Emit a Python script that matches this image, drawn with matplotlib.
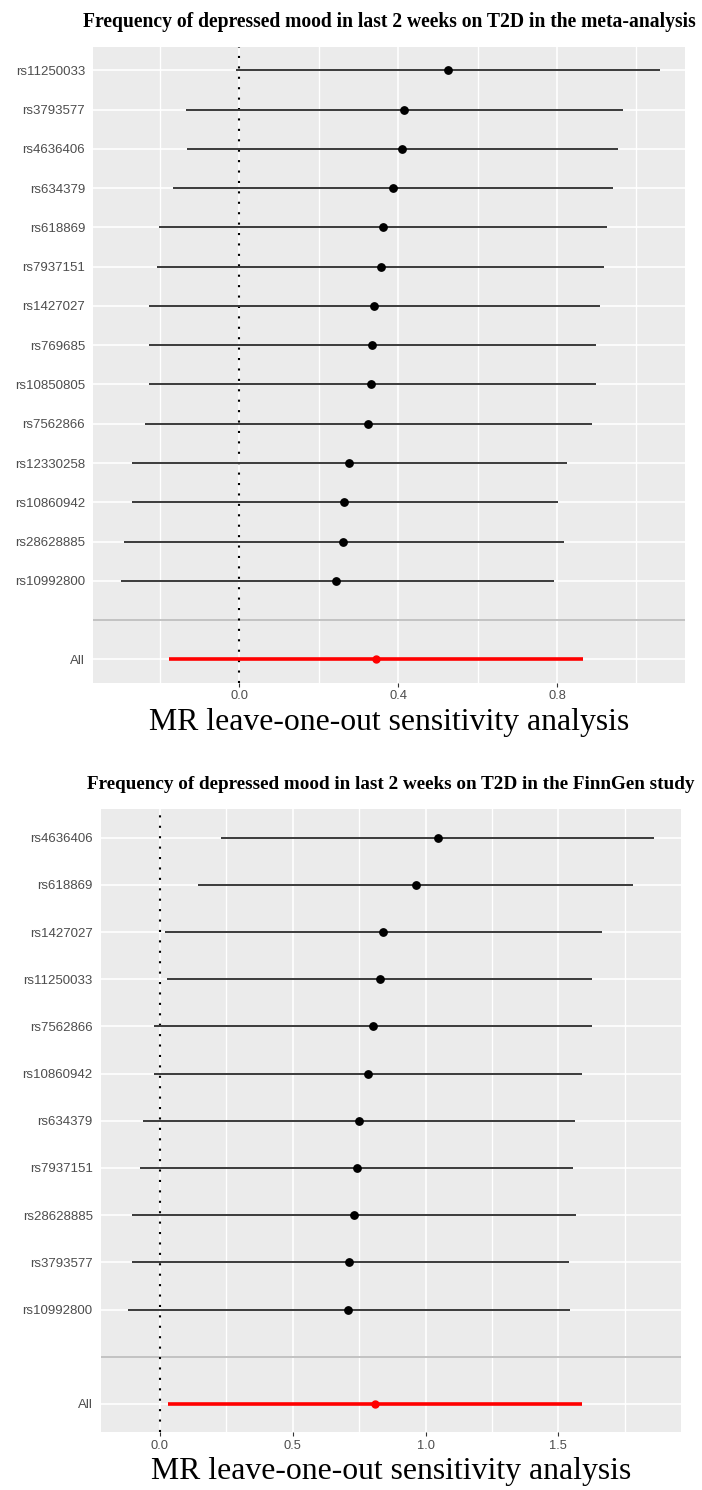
import numpy as np
import matplotlib
matplotlib.use("Agg")
import matplotlib.pyplot as plt

### Données (ordre de haut en bas)

snps_meta = ["rs11250033", "rs3793577", "rs4636406", "rs634379", "rs618869",
             "rs7937151", "rs1427027", "rs769685", "rs10850805", "rs7562866",
             "rs12330258", "rs10860942", "rs28628885", "rs10992800"]
b_meta = [0.525, 0.415, 0.409, 0.386, 0.362, 0.357, 0.339, 0.334, 0.332, 0.324,
          0.276, 0.264, 0.262, 0.244]
lo_meta = [-0.008, -0.135, -0.132, -0.168, -0.202, -0.206, -0.227, -0.226, -0.228,
           -0.238, -0.270, -0.271, -0.290, -0.299]
hi_meta = [1.060, 0.966, 0.953, 0.942, 0.926, 0.919, 0.909, 0.899, 0.899, 0.889,
           0.826, 0.802, 0.817, 0.792]
all_meta = [0.344, -0.177, 0.866]  # b, lo, hi

snps_fg = ["rs4636406", "rs618869", "rs1427027", "rs11250033", "rs7562866",
           "rs10860942", "rs634379", "rs7937151", "rs28628885", "rs3793577",
           "rs10992800"]
b_fg = [1.048, 0.963, 0.841, 0.829, 0.803, 0.785, 0.751, 0.741, 0.729, 0.713, 0.709]
lo_fg = [0.230, 0.144, 0.018, 0.025, -0.023, -0.023, -0.065, -0.075, -0.104, -0.104, -0.122]
hi_fg = [1.862, 1.780, 1.664, 1.627, 1.627, 1.589, 1.564, 1.556, 1.567, 1.539, 1.545]
all_fg = [0.810, 0.029, 1.589]

title_meta = "Frequency of depressed mood in last 2 weeks on T2D in the meta-analysis"
title_fg = "Frequency of depressed mood in last 2 weeks on T2D in the FinnGen study"
xlab = "MR leave-one-out sensitivity analysis"

W, H = 702, 1490


def panel(rect, snps, b, lo, hi, allv, xlim, major, minor, title, tsize, ypad):
    l, t, r, bt = rect  # pixels
    ax = fig.add_axes([l / W, 1 - bt / H, (r - l) / W, (bt - t) / H])
    n = len(snps)
    y = np.arange(n + 2, 2, -1)  # SNPs en haut, "" puis All en bas
    ax.set_facecolor("#EBEBEB")
    for s in ax.spines.values():
        s.set_visible(False)
    ax.set_axisbelow(True)
    ax.set_xlim(xlim)
    ax.set_ylim(0.4, n + 2.6)
    ax.set_xticks(major)
    ax.set_xticks(minor, minor=True)
    ax.set_xticklabels(["%.1f" % v for v in major])
    ax.set_yticks(list(y) + [2, 1])
    ax.set_yticklabels(list(snps) + ["", "All"])
    ax.grid(which="major", color="white", lw=1.2)
    ax.grid(which="minor", axis="x", color="white", lw=1.0)
    ax.tick_params(axis="x", which="major", length=2.8, width=0.8, color="#333333",
                   labelcolor="#4D4D4D", labelsize=9.3, pad=2.5)
    ax.tick_params(axis="x", which="minor", length=0)
    ax.tick_params(axis="y", length=0, pad=ypad, labelcolor="#4D4D4D", labelsize=9.5)
    for lab in ax.get_xticklabels() + ax.get_yticklabels():
        lab.set_family("Liberation Sans")

    ax.axhline(2, color="#BDBDBD", lw=1.3)
    ax.axvline(0, color="black", ls=(0, (1, 4)), lw=1.5)
    ax.hlines(y, lo, hi, color="#3A3A3A", lw=1.4)
    ax.plot(b, y, "o", color="black", ms=5.3)
    ax.hlines(1, allv[1], allv[2], color="red", lw=2.6)
    ax.plot(allv[0], 1, "o", color="red", ms=5)

    cx = (l + r) / 2 / W
    fig.text(cx, 1 - (t - 24.5) / H, title, ha="center", va="center",
             family="Liberation Serif", weight="bold", fontsize=tsize)
    fig.text(cx, 1 - (bt + 39.4) / H, xlab, ha="center", va="center",
             family="Liberation Serif", fontsize=22.9)
    return ax


fig = plt.figure(figsize=(W / 100, H / 100), dpi=100)

panel((92.7, 46.7, 685.3, 683.0), snps_meta, b_meta, lo_meta, hi_meta, all_meta,
      (-0.369, 1.123), [0.0, 0.4, 0.8], [-0.2, 0.2, 0.6, 1.0], title_meta, 14.1, 5.5)
panel((101.0, 809.3, 681.0, 1432.3), snps_fg, b_fg, lo_fg, hi_fg, all_fg,
      (-0.222, 1.962), [0.0, 0.5, 1.0, 1.5], [0.25, 0.75, 1.25, 1.75], title_fg, 13.8, 6.0)

fig.savefig("out.png", dpi=100)
